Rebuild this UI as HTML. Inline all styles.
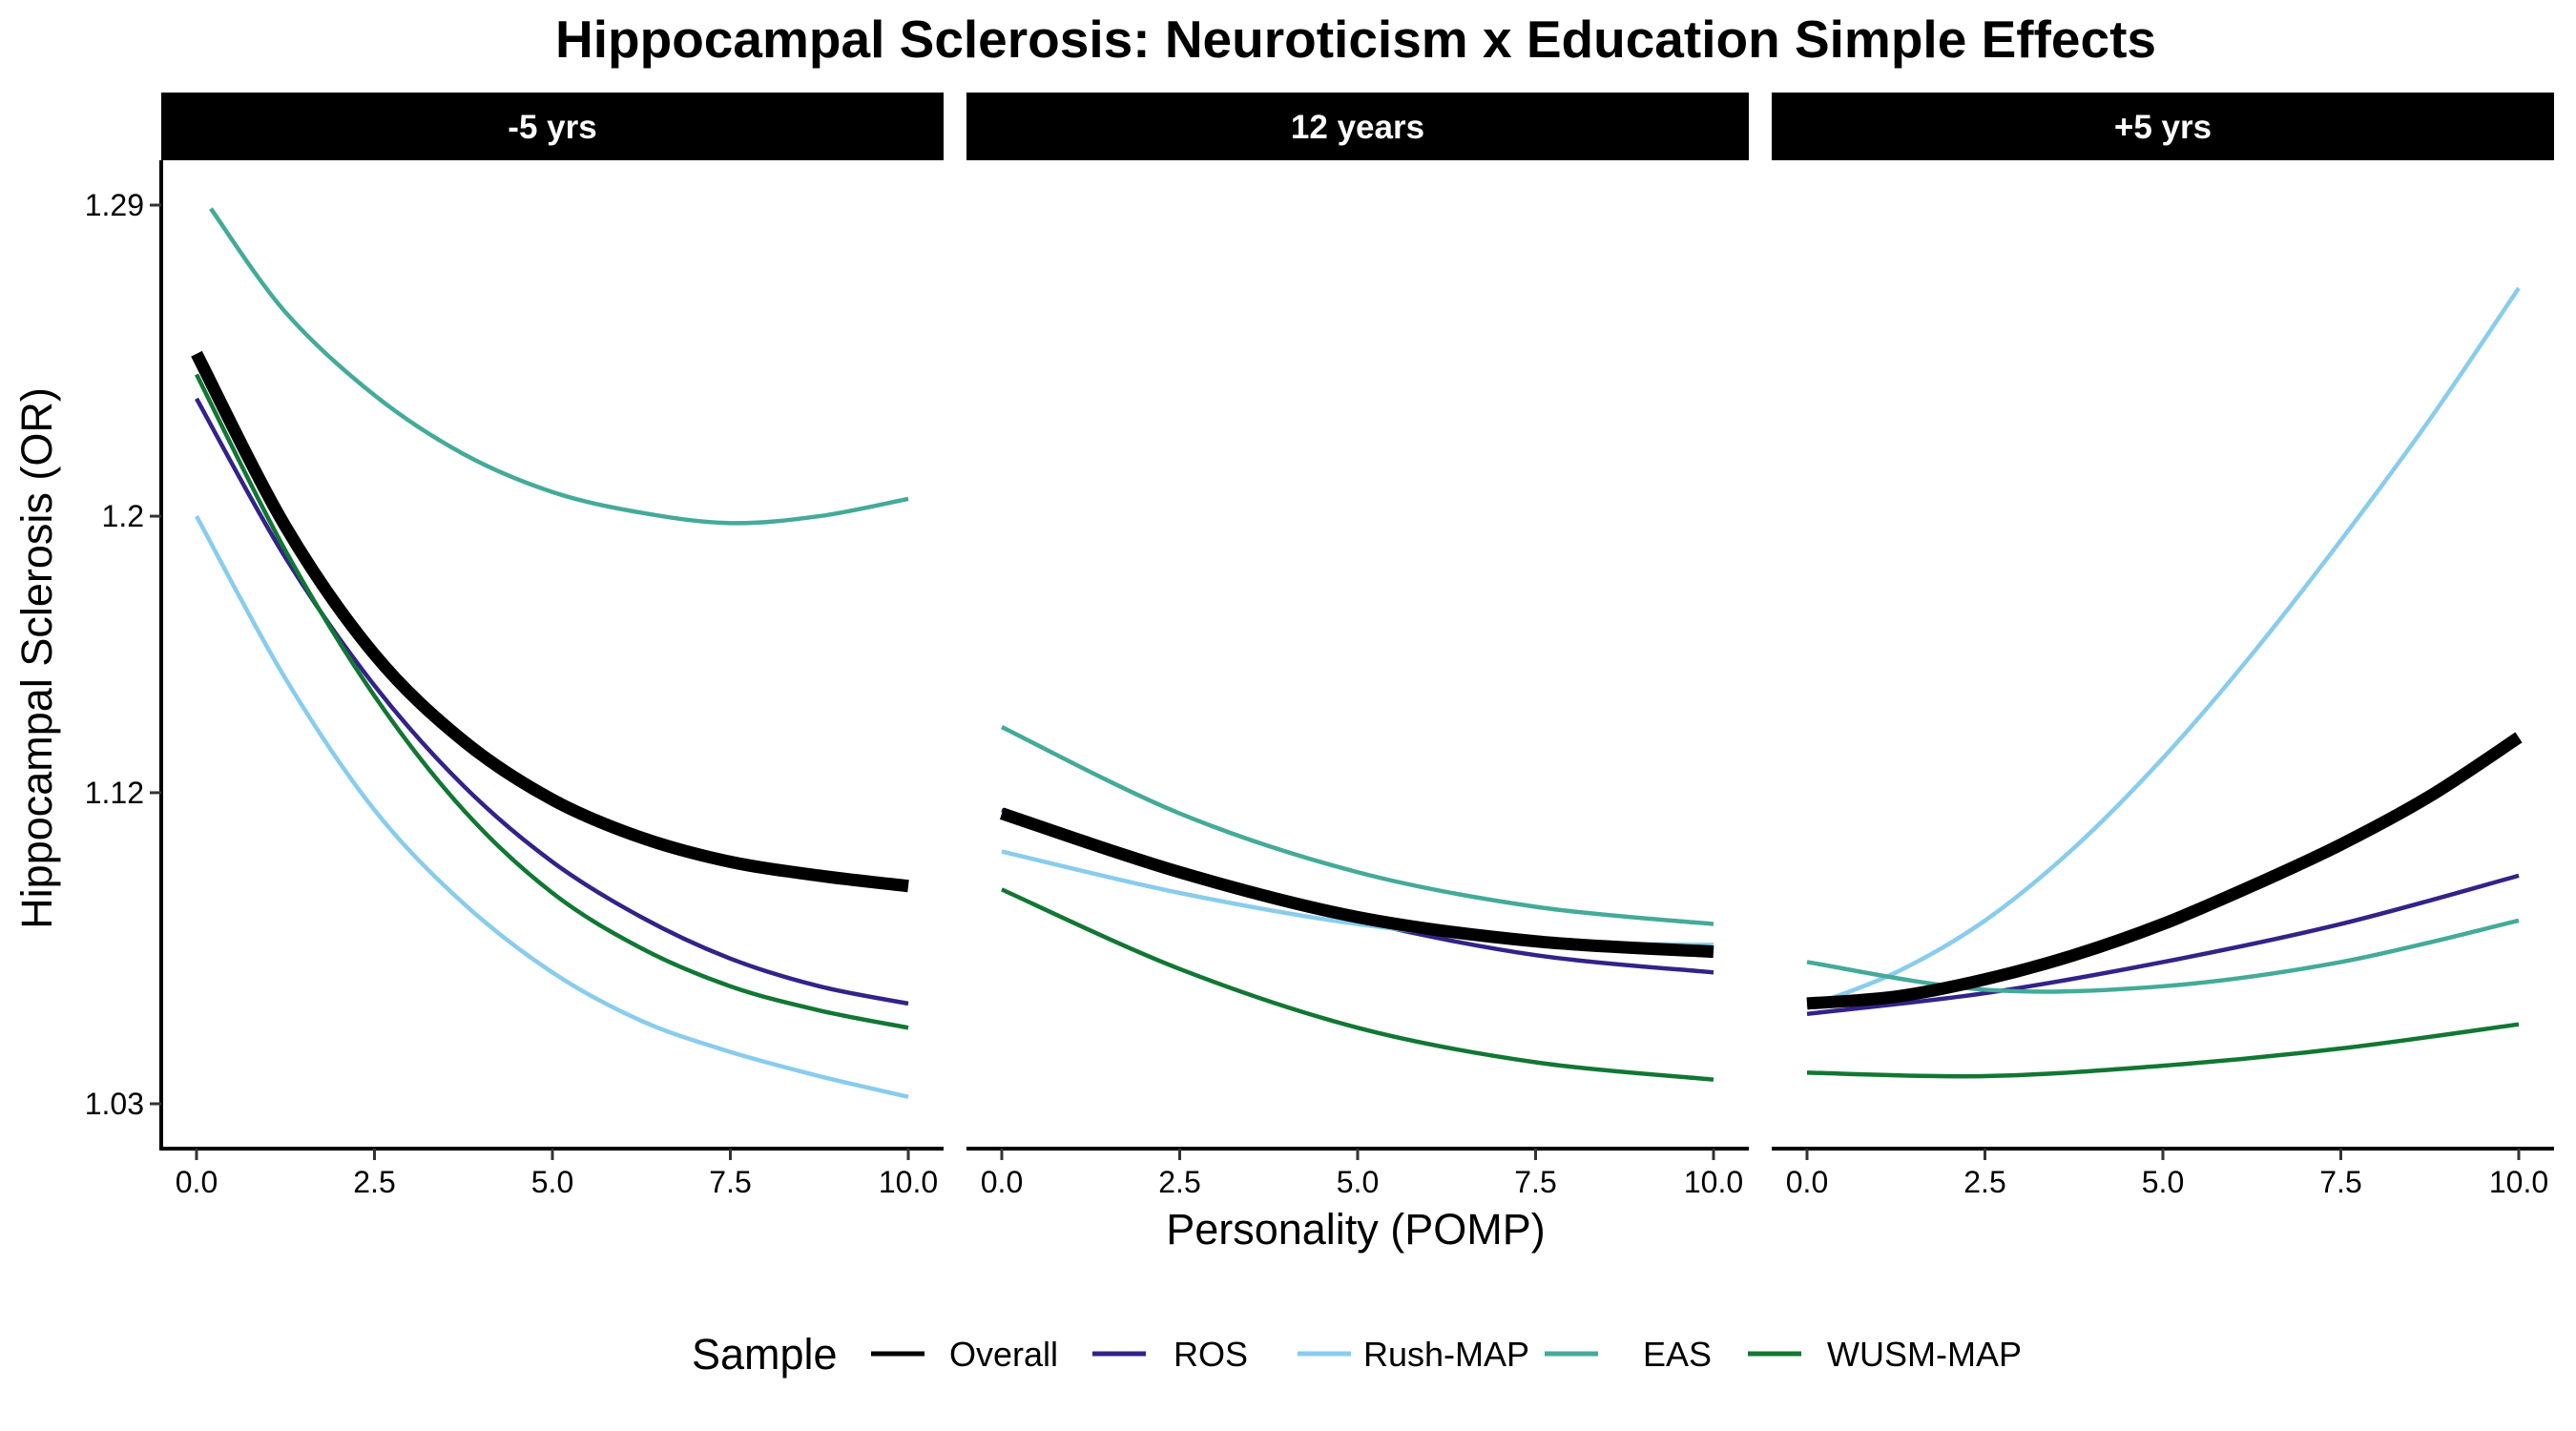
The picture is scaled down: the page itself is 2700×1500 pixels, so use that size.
<!DOCTYPE html>
<html><head><meta charset="utf-8"><style>
html,body{margin:0;padding:0;background:#fff;}
svg{display:block;font-family:"Liberation Sans",Arial,sans-serif;}
</style></head><body>
<svg id="chart" width="2700" height="1500" viewBox="0 0 2700 1500">
<text x="1421" y="60" text-anchor="middle" font-size="55" font-weight="bold">Hippocampal Sclerosis: Neuroticism x Education Simple Effects</text>
<g id="panels"></g>
<text x="1421" y="1304" text-anchor="middle" font-size="45">Personality (POMP)</text>
<text transform="translate(54,690) rotate(-90)" text-anchor="middle" font-size="45">Hippocampal Sclerosis (OR)</text>
<g id="legend"></g>
</svg>
<script>
const panelLabels = ["-5 yrs", "12 years", "+5 yrs"];
const seriesNames = ["Overall", "ROS", "Rush-MAP", "EAS", "WUSM-MAP"];
const seriesColors = ["#000000", "#332288", "#88CCEE", "#44AA99", "#117733"];
const xTicks = [0, 2.5, 5, 7.5, 10];
const xTickLabels = ["0.0", "2.5", "5.0", "7.5", "10.0"];
const yTicks = [1.03, 1.12, 1.2, 1.29];
const yTickLabels = ["1.03", "1.12", "1.2", "1.29"];
const xFine = [0, 1.25, 2.5, 3.75, 5, 6.25, 7.5, 8.75, 10];
const xCoarse = [0, 2.5, 5, 7.5, 10];
const xEas1 = [0.2, 1.25, 2.5, 3.75, 5, 6.25, 7.5, 8.75, 10];
// panel 1 (-5 yrs)
const p1Overall = [1.247, 1.197, 1.160, 1.135, 1.118, 1.107, 1.100, 1.096, 1.093];
const p1ROS = [1.234, 1.188, 1.151, 1.122, 1.100, 1.084, 1.072, 1.064, 1.059];
const p1Rush = [1.200, 1.153, 1.115, 1.088, 1.068, 1.054, 1.045, 1.038, 1.032];
const p1EAS = [1.289, 1.259, 1.235, 1.218, 1.207, 1.201, 1.198, 1.200, 1.205];
const p1WUSM = [1.241, 1.190, 1.148, 1.115, 1.091, 1.075, 1.064, 1.057, 1.052];
// panel 2 (12 years)
const p2Overall = [1.114, 1.097, 1.084, 1.077, 1.074];
const p2ROS = [1.115, 1.097, 1.083, 1.073, 1.068];
const p2Rush = [1.103, 1.091, 1.082, 1.077, 1.076];
const p2EAS = [1.139, 1.114, 1.097, 1.087, 1.082];
const p2WUSM = [1.092, 1.069, 1.052, 1.042, 1.037];
// panel 3 (+5 yrs)
const p3Overall = [1.059, 1.061, 1.066, 1.073, 1.082, 1.093, 1.105, 1.119, 1.136];
const p3ROS = [1.056, 1.062, 1.071, 1.082, 1.096];
const p3Rush = [1.058, 1.068, 1.083, 1.104, 1.130, 1.160, 1.193, 1.228, 1.266];
const p3EAS = [1.071, 1.063, 1.064, 1.071, 1.083];
const p3WUSM = [1.039, 1.038, 1.041, 1.046, 1.053];

const panelData = [
  [[xFine,p1Overall],[xFine,p1ROS],[xFine,p1Rush],[xEas1,p1EAS],[xFine,p1WUSM]],
  [[xCoarse,p2Overall],[xCoarse,p2ROS],[xCoarse,p2Rush],[xCoarse,p2EAS],[xCoarse,p2WUSM]],
  [[xFine,p3Overall],[xCoarse,p3ROS],[xFine,p3Rush],[xCoarse,p3EAS],[xCoarse,p3WUSM]]
];
const NS = "http://www.w3.org/2000/svg";
const panelLeft = [169, 1013, 1857], panelW = 820, plotTop = 168, plotBottom = 1204;
function yScale(v){ return 215 + (1.29 - v) / 0.26 * (1157 - 215); }
function xScale(p, v){ return panelLeft[p] + 37 + v / 10 * 746; }
function mk(tag, attrs, parent){ const e = document.createElementNS(NS, tag); for (const k in attrs) e.setAttribute(k, attrs[k]); parent.appendChild(e); return e; }
function pathFor(pts){
  let d = "M" + pts[0][0] + "," + pts[0][1];
  for (let i = 0; i < pts.length - 1; i++){
    const p0 = pts[Math.max(0, i-1)], p1 = pts[i], p2 = pts[i+1], p3 = pts[Math.min(pts.length-1, i+2)];
    const c1 = [p1[0] + (p2[0]-p0[0])/6, p1[1] + (p2[1]-p0[1])/6];
    const c2 = [p2[0] - (p3[0]-p1[0])/6, p2[1] - (p3[1]-p1[1])/6];
    d += " C" + c1[0] + "," + c1[1] + " " + c2[0] + "," + c2[1] + " " + p2[0] + "," + p2[1];
  }
  return d;
}
const panels = document.getElementById("panels");
panelLabels.forEach((lab, p) => {
  const g = mk("g", {}, panels);
  
  
  const strip = mk("rect", {x: panelLeft[p], y: 97, width: panelW, height: 71, fill: "#000"}, g);
  
  
  const st = mk("text", {x: panelLeft[p] + panelW/2, y: 145, "text-anchor": "middle", "font-size": 35, "font-weight": "bold", fill: "#fff"}, g);
  st.textContent = lab;
  
  
  const xa = mk("line", {x1: panelLeft[p], x2: panelLeft[p] + panelW, y1: plotBottom, y2: plotBottom, stroke: "#000", "stroke-width": 4}, g);
  
  
  xTicks.forEach((t, i) => {
    const x = xScale(p, t);
    const tk = mk("line", {x1: x, x2: x, y1: plotBottom, y2: plotBottom + 12, stroke: "#333", "stroke-width": 3}, g);
    
    
    const tl = mk("text", {x: x, y: 1250, "text-anchor": "middle", "font-size": 32, fill: "#000"}, g);
    tl.textContent = xTickLabels[i];
    
    
  });
  if (p === 0){
    const ya = mk("line", {x1: panelLeft[0], x2: panelLeft[0], y1: plotTop, y2: plotBottom + 2, stroke: "#000", "stroke-width": 4}, g);
    
    
    yTicks.forEach((t, i) => {
      const y = yScale(t);
      const tk = mk("line", {x1: panelLeft[0] - 12, x2: panelLeft[0], y1: y, y2: y, stroke: "#333", "stroke-width": 3}, g);
      
      
      const tl = mk("text", {x: panelLeft[0] - 18, y: y + 11, "text-anchor": "end", "font-size": 32, fill: "#000"}, g);
      tl.textContent = yTickLabels[i];
      
      
    });
  }
  [1,2,3,4,0].forEach(s => {
    const [xs, ys] = panelData[p][s];
    const pts = xs.map((xv, i) => [xScale(p, xv), yScale(ys[i])]);
    const path = mk("path", {d: pathFor(pts), fill: "none", stroke: seriesColors[s], "stroke-width": s === 0 ? 13 : 4.5}, g);
    
    
  });
});
const legend = document.getElementById("legend");
const lt = mk("text", {x: 725, y: 1435, "font-size": 45}, legend);
lt.textContent = "Sample";


const legX = [913, 1145, 1360, 1619, 1832];
const legTextX = [995, 1230, 1429, 1722, 1915];
seriesNames.forEach((n, i) => {
  const g = mk("g", {}, legend);
  
  
  mk("line", {x1: legX[i], x2: legX[i] + 56, y1: 1419, y2: 1419, stroke: seriesColors[i], "stroke-width": 5}, g);
  const t = mk("text", {x: legTextX[i], y: 1432, "font-size": 36}, g);
  t.textContent = n;
});
</script>
</body></html>
